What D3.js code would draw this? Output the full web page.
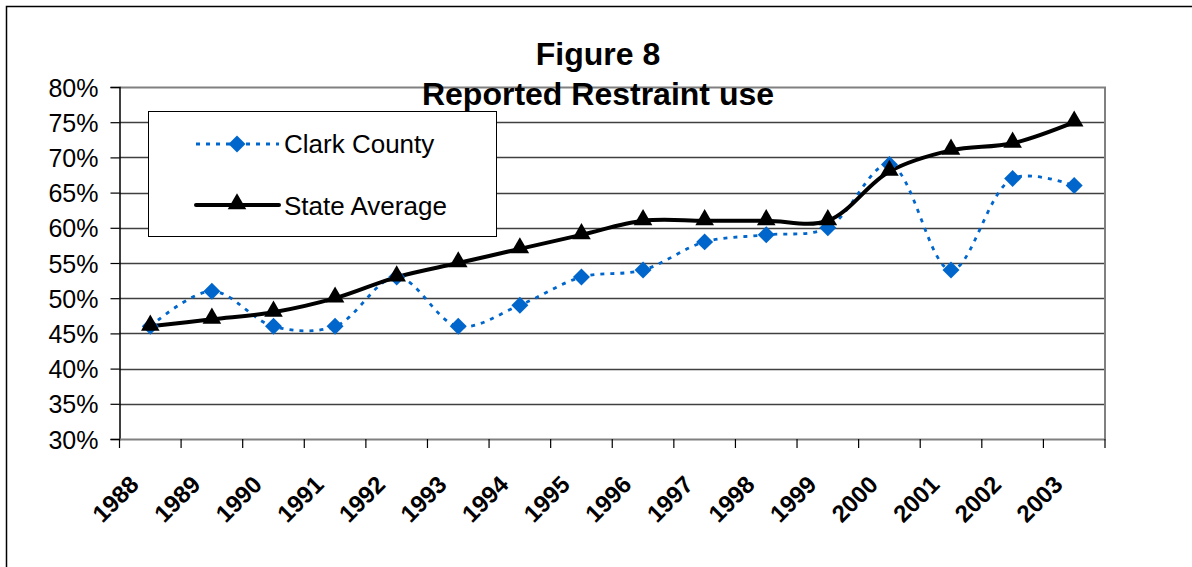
<!DOCTYPE html>
<html><head><meta charset="utf-8">
<script src="https://cdn.jsdelivr.net/npm/d3@7"></script>
<style>body{margin:0;background:#fff}svg{display:block;font-family:Arial,"Liberation Sans",sans-serif}</style>
</head><body>
<svg id="c" width="1192" height="567"></svg>
<script>
const years = ["1988","1989","1990","1991","1992","1993","1994","1995","1996","1997","1998","1999","2000","2001","2002","2003"];
const clarkCounty = [46,51,46,46,53,46,49,53,54,58,59,60,69,54,67,66];
const stateAverage = [46,47,48,50,53,55,57,59,61,61,61,61,68,71,72,75];
const yTicks = [30,35,40,45,50,55,60,65,70,75,80];
const titleLines = ["Figure 8","Reported Restraint use"];
const seriesNames = ["Clark County","State Average"];

const FONT = "Arial,'Liberation Sans',sans-serif";
const svg = d3.select("#c");
svg.append("rect").attr("x",6.5).attr("y",6.5).attr("width",1200).attr("height",600)
  .attr("fill","none").attr("stroke","#000").attr("stroke-width",1.5);

const L=119.5, R=1105, T=87, B=439;
const x = d3.scaleBand().domain(years).range([L,R]);
const y = d3.scaleLinear().domain([30,80]).range([B,T]);

// gridlines
svg.append("g").selectAll("line").data(yTicks.slice(1,-1)).join("line")
  .attr("x1",L).attr("x2",R).attr("y1",d=>Math.round(y(d))+0.5).attr("y2",d=>Math.round(y(d))+0.5)
  .attr("stroke","#404040").attr("stroke-width",1.5);
// plot frame top/right
svg.append("path").attr("d",`M${L},${T+0.5}H${R}V${B}`).attr("fill","none").attr("stroke","#808080").attr("stroke-width",2);

// y axis
const ya = svg.append("g").attr("transform",`translate(${L},0)`)
  .call(d3.axisLeft(y).tickValues(yTicks).tickSize(9).tickFormat(d=>d+"%"));
ya.select(".domain").attr("stroke","#000").attr("stroke-width",1.5);
ya.selectAll(".tick line").attr("stroke","#000").attr("stroke-width",1.2);
ya.selectAll("text").attr("font-size",25).attr("fill","#000").attr("font-family",FONT).attr("x",-21).attr("dy","0.36em");

// x axis
const xa = svg.append("g").attr("transform",`translate(0,${B})`)
  .call(d3.axisBottom(x).tickSize(0).tickFormat(""));
xa.select(".domain").attr("stroke","#808080").attr("stroke-width",2);
const edges = years.map(d=>x(d)).concat([R]);
xa.selectAll(".edge").data(edges).join("line").attr("class","edge")
  .attr("x1",d=>d).attr("x2",d=>d).attr("y1",0).attr("y2",9).attr("stroke","#000").attr("stroke-width",1.2);
xa.selectAll(".lbl").data(years).join("text").attr("class","lbl")
  .attr("transform",d=>`translate(${x(d)+x.bandwidth()/2-10},${47}) rotate(-45)`)
  .attr("text-anchor","end").attr("font-size",24).attr("font-weight","bold").attr("fill","#000")
  .attr("font-family",FONT)
  .text(d=>d);

const cx = d=>x(d)+x.bandwidth()/2;
const line = d3.line().x((d,i)=>cx(years[i])).y(d=>y(d)).curve(d3.curveCatmullRom.alpha(0.5));

svg.append("path").datum(clarkCounty).attr("d",line).attr("fill","none")
  .attr("stroke","#0066CC").attr("stroke-width",2.8).attr("stroke-dasharray","4,6");
svg.append("path").datum(stateAverage).attr("d",line).attr("fill","none")
  .attr("stroke","#000").attr("stroke-width",4);

const diamond = d3.symbol().type(d3.symbolSquare).size(144);
const tri = d3.symbol().type(d3.symbolTriangle).size(150);
svg.append("g").selectAll("path").data(clarkCounty).join("path")
  .attr("transform",(d,i)=>`translate(${cx(years[i])},${y(d)}) rotate(45)`)
  .attr("d",diamond).attr("fill","#0066CC");
svg.append("g").selectAll("path").data(stateAverage).join("path")
  .attr("transform",(d,i)=>`translate(${cx(years[i])},${y(d)-1})`)
  .attr("d",tri).attr("fill","#000");

// legend
const lg = svg.append("g");
lg.append("rect").attr("x",148.5).attr("y",111.5).attr("width",348).attr("height",125)
  .attr("fill","#fff").attr("stroke","#000").attr("stroke-width",1);
lg.append("line").attr("x1",196).attr("x2",279).attr("y1",144).attr("y2",144)
  .attr("stroke","#0066CC").attr("stroke-width",2.8).attr("stroke-dasharray","4,6");
lg.append("path").attr("transform","translate(237,144) rotate(45)").attr("d",diamond).attr("fill","#0066CC");
lg.append("line").attr("x1",196).attr("x2",279).attr("y1",205).attr("y2",205)
  .attr("stroke","#000").attr("stroke-width",4).attr("stroke-linecap","round");
lg.append("path").attr("transform","translate(237,204)").attr("d",tri).attr("fill","#000");
lg.selectAll("text").data(seriesNames).join("text")
  .attr("x",284).attr("y",(d,i)=>[153,215][i]).attr("font-size",26).attr("fill","#000")
  .attr("font-family",FONT).text(d=>d);

// title
svg.selectAll(".title").data(titleLines).join("text").attr("class","title")
  .attr("x",598).attr("y",(d,i)=>[65,105][i]).attr("text-anchor","middle")
  .attr("font-size",32).attr("font-weight","bold").attr("fill","#000")
  .attr("font-family",FONT).text(d=>d);
</script>
</body></html>
